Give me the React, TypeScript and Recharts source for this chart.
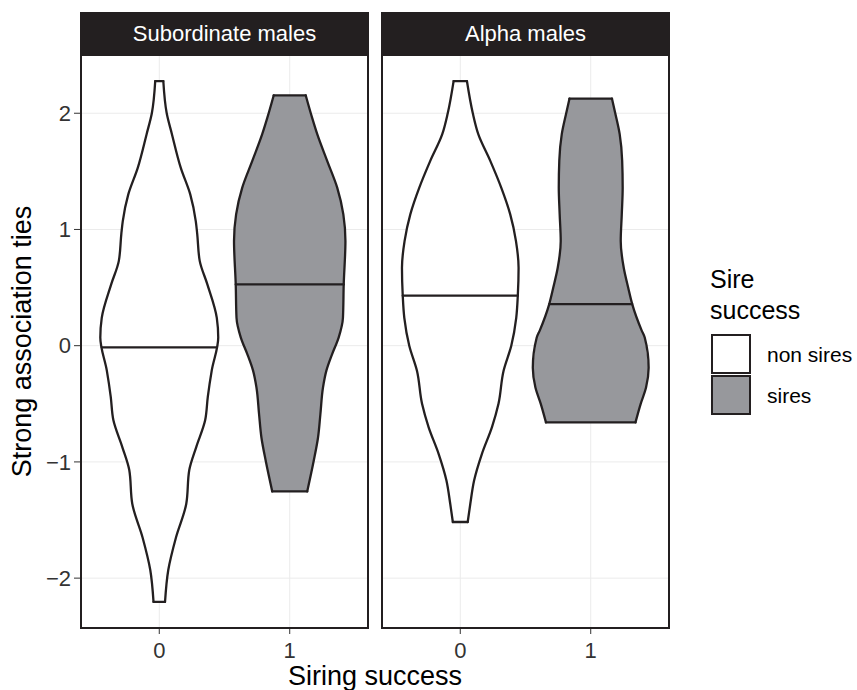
import { ScatterChart, Scatter, XAxis, YAxis, CartesianGrid } from 'recharts';

const facets = ['Subordinate males', 'Alpha males'];
const groups = ['non sires', 'sires'];
const groupFill = ['#ffffff', '#97989c'];
const xTicks = [0, 1];
const yTicks = [-2, -1, 0, 1, 2];

// violin outlines: y level (top -> bottom) and half-width in x units
const subNonY = [2.277, 2.0, 1.82, 1.53, 1.3, 1.07, 0.96, 0.73, 0.53, 0.24, 0.07, -0.215, -0.44, -0.64, -0.87, -1.07, -1.36, -1.65, -1.93, -2.205];
const subNonW = [0.031, 0.057, 0.097, 0.165, 0.238, 0.28, 0.291, 0.31, 0.368, 0.441, 0.452, 0.402, 0.372, 0.352, 0.284, 0.23, 0.207, 0.128, 0.069, 0.044];
const subNonMedian = -0.014;
const subNonMedianW = 0.441;

const subSireY = [2.153, 1.96, 1.82, 1.59, 1.36, 1.13, 0.9, 0.53, 0.24, 0.07, -0.07, -0.215, -0.36, -0.59, -0.79, -0.99, -1.254];
const subSireW = [0.123, 0.172, 0.211, 0.287, 0.364, 0.411, 0.427, 0.414, 0.408, 0.375, 0.326, 0.281, 0.255, 0.235, 0.217, 0.184, 0.134];
const subSireMedian = 0.527;
const subSireMedianW = 0.414;

const alphaNonY = [2.277, 2.0, 1.82, 1.59, 1.36, 1.13, 0.9, 0.67, 0.43, 0.24, 0.0, -0.215, -0.5, -0.7, -0.93, -1.16, -1.36, -1.517];
const alphaNonW = [0.051, 0.096, 0.138, 0.23, 0.314, 0.383, 0.427, 0.447, 0.441, 0.429, 0.391, 0.332, 0.293, 0.243, 0.166, 0.106, 0.077, 0.057];
const alphaNonMedian = 0.43;
const alphaNonMedianW = 0.441;

const alphaSireY = [2.125, 2.0, 1.82, 1.59, 1.36, 1.13, 0.9, 0.67, 0.5, 0.358, 0.13, 0.07, -0.19, -0.36, -0.5, -0.66];
const alphaSireW = [0.163, 0.188, 0.222, 0.241, 0.245, 0.238, 0.23, 0.253, 0.287, 0.318, 0.391, 0.414, 0.444, 0.424, 0.383, 0.343];
const alphaSireMedian = 0.358;
const alphaSireMedianW = 0.318;

type Violin = { x: number; ys: number[]; ws: number[]; median: number; medianW: number; fill: string };

const panels: Violin[][] = [
  [
    { x: 0, ys: subNonY, ws: subNonW, median: subNonMedian, medianW: subNonMedianW, fill: groupFill[0] },
    { x: 1, ys: subSireY, ws: subSireW, median: subSireMedian, medianW: subSireMedianW, fill: groupFill[1] },
  ],
  [
    { x: 0, ys: alphaNonY, ws: alphaNonW, median: alphaNonMedian, medianW: alphaNonMedianW, fill: groupFill[0] },
    { x: 1, ys: alphaSireY, ws: alphaSireW, median: alphaSireMedian, medianW: alphaSireMedianW, fill: groupFill[1] },
  ],
];

// ggplot-style 5% expansion of the data range
const allY = panels.flat().flatMap(v => v.ys);
const yLo = Math.min(...allY);
const yHi = Math.max(...allY);
const yPad = (yHi - yLo) * 0.05;
const yDomain: [number, number] = [yLo - yPad, yHi + yPad];

const INK = '#231f20';
const TICK = '#333333';
const LW = 2.3;
const FONT = '"Liberation Sans", Arial, Helvetica, sans-serif';

const side = (v: Violin, dir: number) => v.ys.map((y, i) => ({ x: v.x + dir * v.ws[i], y }));

const outline = (v: Violin) => {
  const left = side(v, -1);
  const right = side(v, 1).reverse();
  return [...left, ...right, left[0]];
};

const cap = (v: Violin, i: number) => [
  { x: v.x - v.ws[i], y: v.ys[i] },
  { x: v.x + v.ws[i], y: v.ys[i] },
];

const medianSeg = (v: Violin) => [
  { x: v.x - v.medianW, y: v.median },
  { x: v.x + v.medianW, y: v.median },
];

const noDot = () => <g />;
const fmtY = (v: number) => (v < 0 ? `\u2212${Math.abs(v)}` : `${v}`);
const stroke = { stroke: INK, strokeWidth: LW, fill: 'none', strokeLinecap: 'round' as const };

function Panel({ title, violins, left, width, showY }: {
  title: string; violins: Violin[]; left: number; width: number; showY: boolean;
}) {
  const plotLeft = left + (showY ? 81 : 2);
  const plotRight = left + width - 2;
  return (
    <>
      <div style={{ position: 'absolute', left, top: 0 }}>
        <ScatterChart width={width} height={690} margin={{ top: 55, right: 2, bottom: 0, left: showY ? 0 : 2 }}>
          <CartesianGrid stroke="#ebebeb" strokeWidth={1} />
          <XAxis
            type="number" dataKey="x" domain={[-0.6, 1.6]} ticks={xTicks} interval={0}
            tickSize={6} tickMargin={8} height={62} axisLine={false}
            tick={{ fontSize: 22, fill: TICK }} tickLine={{ stroke: TICK, strokeWidth: 1 }}
          />
          <YAxis
            type="number" dataKey="y" domain={yDomain} ticks={yTicks} interval={0}
            hide={!showY} width={81} tickSize={7} tickMargin={3} axisLine={false}
            tickFormatter={fmtY}
            tick={{ fontSize: 22, fill: TICK }} tickLine={{ stroke: TICK, strokeWidth: 1 }}
          />
          {violins.map((v, i) => (
            <Scatter key={`f${i}`} data={outline(v)} fill={v.fill}
              line={{ fill: v.fill, stroke: 'none' }} shape={noDot} isAnimationActive={false} />
          ))}
          {violins.flatMap((v, i) => [
            <Scatter key={`l${i}`} data={side(v, -1)} fill="none" line={stroke}
              lineJointType="monotoneY" shape={noDot} isAnimationActive={false} />,
            <Scatter key={`r${i}`} data={side(v, 1)} fill="none" line={stroke}
              lineJointType="monotoneY" shape={noDot} isAnimationActive={false} />,
            <Scatter key={`t${i}`} data={cap(v, 0)} fill="none" line={stroke}
              shape={noDot} isAnimationActive={false} />,
            <Scatter key={`b${i}`} data={cap(v, v.ys.length - 1)} fill="none" line={stroke}
              shape={noDot} isAnimationActive={false} />,
            <Scatter key={`m${i}`} data={medianSeg(v)} fill="none" line={stroke}
              shape={noDot} isAnimationActive={false} />,
          ])}
        </ScatterChart>
      </div>
      <div style={{
        position: 'absolute', left: plotLeft - 1, top: 54, width: plotRight - plotLeft + 2, height: 575,
        border: `2px solid ${INK}`, boxSizing: 'border-box', pointerEvents: 'none',
      }} />
      <div style={{
        position: 'absolute', left: plotLeft - 1, top: 12, width: plotRight - plotLeft + 2, height: 43,
        background: INK, color: '#ffffff', fontSize: 22, lineHeight: '43px', textAlign: 'center',
      }}>{title}</div>
    </>
  );
}

export default function App() {
  return (
    <div style={{ position: 'absolute', left: 0, top: 0, width: 857, height: 690, background: '#fff', fontFamily: FONT, overflow: 'hidden' }}>
      <Panel title={facets[0]} violins={panels[0]} left={0} width={370} showY />
      <Panel title={facets[1]} violins={panels[1]} left={380} width={291} showY={false} />
      <svg width={857} height={690} style={{ position: 'absolute', left: 0, top: 0, pointerEvents: 'none' }}>
        <text x={31} y={341.5} transform="rotate(-90 31 341.5)" textAnchor="middle" fontSize={27} fill="#000">
          Strong association ties
        </text>
        <text x={375} y={685} textAnchor="middle" fontSize={27} fill="#000">Siring success</text>
        <text x={710} y={288} fontSize={25} fill="#000">Sire</text>
        <text x={710} y={319} fontSize={25} fill="#000">success</text>
        {groups.map((g, i) => (
          <g key={g}>
            <rect x={712} y={335 + i * 41} width={38} height={38} fill={groupFill[i]} stroke={INK} strokeWidth={2} />
            <text x={767} y={362 + i * 41} fontSize={21} fill="#000">{g}</text>
          </g>
        ))}
      </svg>
    </div>
  );
}
